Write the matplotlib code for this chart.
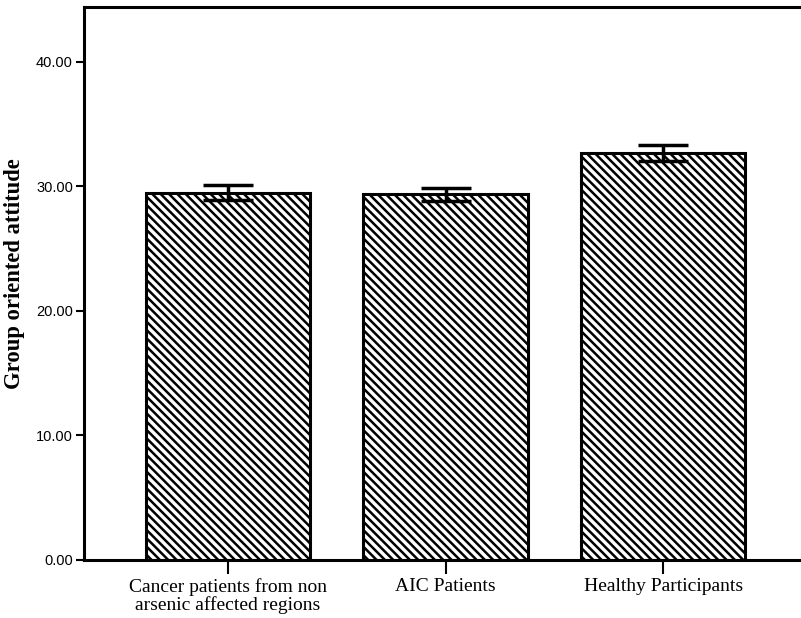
import matplotlib.pyplot as plt
import numpy as np

groups = ['Cancer patients from non\narsenic affected regions', 'AIC Patients', 'Healthy Participants']
means = [29.5, 29.35, 32.7]
errs = [0.62, 0.55, 0.65]
yticks = [0, 10, 20, 30, 40]

plt.rcParams['hatch.linewidth'] = 1.8

fig = plt.figure(figsize=(8.01, 6.18), dpi=100)
ax = fig.add_axes([0.1049, 0.0939, 0.8951, 0.8948])

x = np.arange(len(groups))
ax.bar(x, means, width=0.755, color='white', edgecolor='black', hatch='\\\\\\\\', linewidth=2.2, zorder=2)
ax.errorbar(x, means, yerr=errs, fmt='none', ecolor='black', elinewidth=2.5, capsize=18, capthick=2.5, zorder=3)

ax.set_xlim(-0.662, 2.634)
ax.set_ylim(0, 44.4)
ax.set_yticks(yticks)
ax.set_yticklabels(['%.2f' % v for v in yticks], fontfamily='Liberation Sans', fontsize=10.5)
ax.set_xticks(x)
ax.set_xticklabels(groups, fontfamily='Liberation Serif', fontsize=14, linespacing=1.0)
ax.tick_params(axis='y', length=6, width=1.5, pad=2)
ax.tick_params(axis='x', length=10, width=1.5, pad=3)

for s in ['left', 'top', 'bottom']:
    ax.spines[s].set_linewidth(2.2)
ax.spines['right'].set_visible(False)

ax.set_ylabel('Group oriented attitude', fontfamily='Liberation Serif', fontweight='bold', fontsize=16.3)
ax.yaxis.set_label_coords(-0.083, 0.518)

fig.savefig('out.png', dpi=100)
